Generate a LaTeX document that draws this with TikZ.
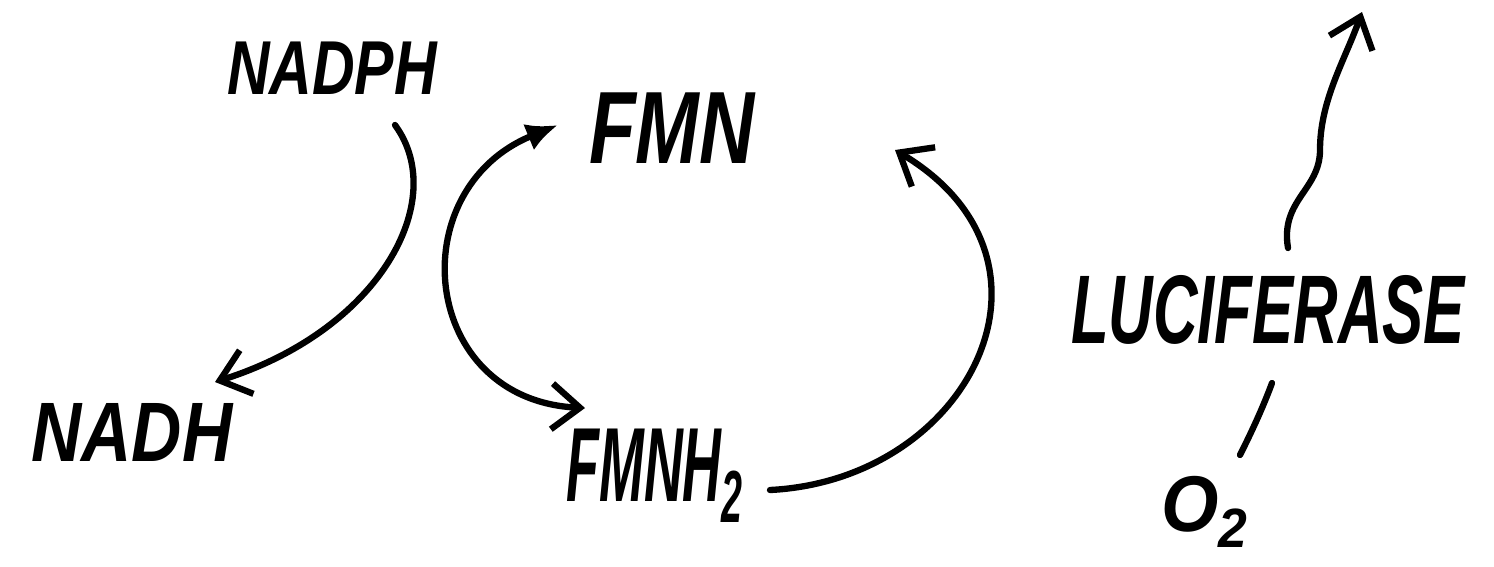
\documentclass[tikz,border=0pt]{standalone}
\usepackage{fontspec}
\setmainfont{Liberation Sans}
\usetikzlibrary{arrows.meta,calc}
\newcommand{\hw}[3]{\scalebox{#1}[#2]{\fontsize{30}{36}\bfseries\itshape #3}}
\tikzset{
  label/.style={inner sep=0pt, outer sep=0pt, text=black},
  stroke/.style={line width=3.6pt, line cap=round, line join=round, black},
  barb/.style={-{Straight Barb[length=16pt,width=26pt,line width=3.6pt]}},
}
\begin{document}
\begin{tikzpicture}[x=0.02cm,y=-0.02cm]
\useasboundingbox (0,0) rectangle (1494,566);
% labels
\node[label] (nadph) at (332,68)  {\hw{1.12}{1.45}{NADPH}};
\node[label] (nadh)  at (132,432) {\hw{1.32}{1.6}{NADH}};
\node[label] (fmn)   at (672,128) {\hw{1.45}{1.95}{FMN}};
\node[label] (fmnh)  at (655,476) {\hw{1.02}{2.0}{FMNH\textsubscript{2}}};
\node[label] (luc)   at (1268,310){\hw{1.17}{1.85}{LUCIFERASE}};
\node[label] (otwo)  at (1205,512){\hw{1.4}{1.5}{O\textsubscript{2}}};
\coordinate (light) at (1362,12);
% NADPH -> NADH
\draw[stroke,barb] ($(nadph)+(63,57)$) .. controls (450,200) and (380,330) .. ($(nadh)+(83,-50)$);
% FMN <-> FMNH2 (left loop)
\draw[stroke,{Latex[length=18pt,width=16pt]}-{Straight Barb[length=16pt,width=26pt,line width=3.6pt]}]
  ($(fmn)+(-114,-3)$) .. controls (400,190) and (420,400) .. ($(fmnh)+(-70,-68)$);
% FMNH2 -> FMN (right loop)
\draw[stroke,barb] ($(fmnh)+(115,14)$) .. controls (970,480) and (1080,260) .. ($(fmn)+(223,22)$);
% luciferase -- O2
\draw[stroke] ($(luc)+(4,73)$) .. controls (1262,410) and (1250,435) .. ($(otwo)+(35,-57)$);
% light emission squiggle
\draw[stroke,barb] ($(luc)+(20,-62)$) .. controls (1280,200) and (1320,190) .. (1320,150)
  .. controls (1320,100) and (1345,60) .. (light);
\end{tikzpicture}
\end{document}
